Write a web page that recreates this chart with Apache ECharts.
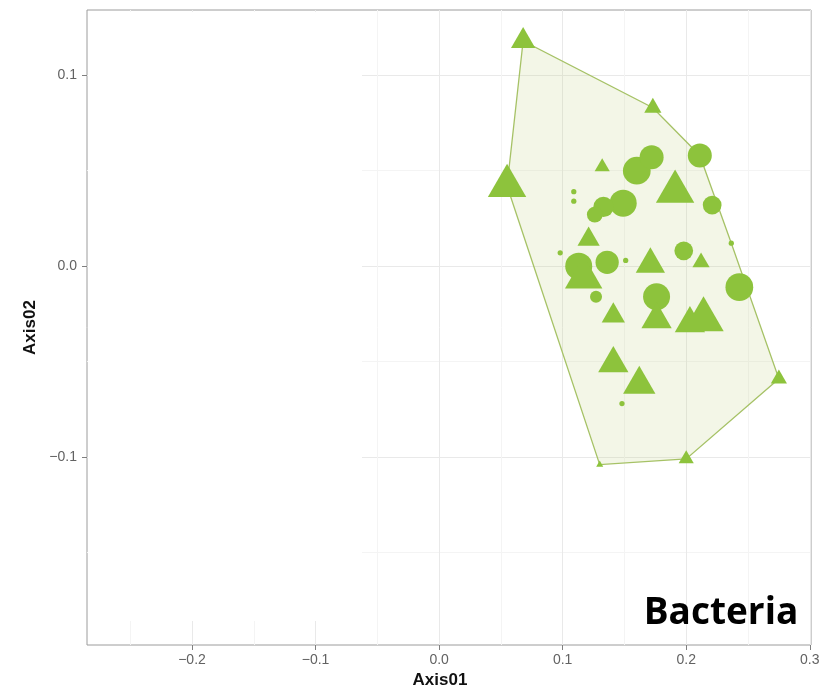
<!DOCTYPE html>
<html>
<head>
<meta charset="utf-8">
<script src="https://cdn.jsdelivr.net/npm/echarts@6/dist/echarts.min.js"></script>
<style>
html,body{margin:0;padding:0;background:#ffffff;}
#chart{width:828px;height:691px;}
</style>
</head>
<body>
<div id="chart"></div>
<script>
// ---- data ----
// group 1: circles
const circleX = [0.160, 0.172, 0.211, 0.149, 0.133, 0.126, 0.221, 0.113, 0.136, 0.198, 0.243, 0.127, 0.176, 0.109, 0.109, 0.098, 0.151, 0.2365, 0.148];
const circleY = [0.050, 0.057, 0.058, 0.033, 0.031, 0.027, 0.032, 0.000, 0.002, 0.008, -0.011, -0.016, -0.016, 0.039, 0.034, 0.007, 0.003, 0.012, -0.072];
const circleAbund = [37, 32, 32, 36, 27, 21, 25, 36, 31, 25, 37, 16, 36, 7, 7, 7, 7, 7, 7];
// group 2: triangles
const triX = [0.068, 0.173, 0.055, 0.132, 0.191, 0.121, 0.117, 0.171, 0.212, 0.141, 0.176, 0.203, 0.214, 0.141, 0.162, 0.275, 0.200, 0.130];
const triY = [0.118, 0.083, 0.042, 0.052, 0.039, 0.014, -0.006, 0.001, 0.002, -0.026, -0.028, -0.030, -0.028, -0.051, -0.062, -0.059, -0.101, -0.104];
const triAbund = [24, 17, 38, 15, 38, 22, 37, 29, 17, 23, 30, 30, 40, 30, 32, 16, 15, 7];
// axes
const xTicks = [-0.2, -0.1, 0.0, 0.1, 0.2, 0.3];
const yTicks = [-0.1, 0.0, 0.1];
const xMinor = [-0.25, -0.15, -0.05, 0.05, 0.15, 0.25];
const yMinor = [-0.15, -0.05, 0.05];
const xRange = [-0.285, 0.301];
const yRange = [-0.1985, 0.1342];
const xTitle = 'Axis01';
const yTitle = 'Axis02';
const panelLabel = 'Bacteria';

// ---- derived ----
const circleData = circleX.map((x, i) => [x, circleY[i], circleAbund[i]]);
const triData = triX.map((x, i) => [x, triY[i], triAbund[i]]);

function convexHull(points) {
  const p = points.map(d => [d[0], d[1]]).sort((a, b) => a[0] - b[0] || a[1] - b[1]);
  const cross = (o, a, b) => (a[0] - o[0]) * (b[1] - o[1]) - (a[1] - o[1]) * (b[0] - o[0]);
  const lower = [];
  for (const pt of p) {
    while (lower.length >= 2 && cross(lower[lower.length - 2], lower[lower.length - 1], pt) <= 0) lower.pop();
    lower.push(pt);
  }
  const upper = [];
  for (let i = p.length - 1; i >= 0; i--) {
    const pt = p[i];
    while (upper.length >= 2 && cross(upper[upper.length - 2], upper[upper.length - 1], pt) <= 0) upper.pop();
    upper.push(pt);
  }
  upper.pop(); lower.pop();
  return lower.concat(upper);
}
const hull = convexHull(circleData.concat(triData));

const fmt = v => (v < -1e-9 ? '\u2212' : '') + Math.abs(v).toFixed(1);
const green = '#8dc33c';
const labelFont = 'Liberation Sans';

const chart = echarts.init(document.getElementById('chart'), null, {renderer: 'canvas'});
chart.setOption({
  animation: false,
  backgroundColor: '#ffffff',
  grid: {
    left: 87, right: 17, top: 10, bottom: 46,
    show: true, borderColor: '#9c9c9c', borderWidth: 1,
    backgroundColor: 'transparent',
    containLabel: false, outerBoundsMode: 'none'
  },
  xAxis: [{
    type: 'value', min: xRange[0], max: xRange[1], position: 'bottom',
    axisLine: {show: false, onZero: false},
    axisTick: {show: true, length: 5, customValues: xTicks, lineStyle: {color: '#7f7f7f', width: 1}},
    axisLabel: {customValues: xTicks, formatter: fmt, color: '#626262', fontSize: 14, fontFamily: labelFont, margin: 8},
    splitLine: {show: true, lineStyle: {color: '#e9e9e9', width: 1}},
    name: xTitle, nameLocation: 'middle', nameGap: 23,
    nameTextStyle: {fontWeight: 'bold', fontSize: 17, color: '#111', fontFamily: labelFont, padding: [0, 18, 0, 0]}
  }, {
    type: 'value', min: xRange[0], max: xRange[1], position: 'top',
    axisLine: {show: false, onZero: false},
    axisTick: {show: false, customValues: xMinor},
    axisLabel: {show: false, customValues: xMinor},
    splitLine: {show: true, lineStyle: {color: '#f4f4f4', width: 1}}
  }],
  yAxis: [{
    type: 'value', min: yRange[0], max: yRange[1], position: 'left',
    axisLine: {show: false, onZero: false},
    axisTick: {show: true, length: 5, customValues: yTicks, lineStyle: {color: '#7f7f7f', width: 1}},
    axisLabel: {customValues: yTicks, formatter: fmt, color: '#626262', fontSize: 14, fontFamily: labelFont, margin: 10},
    splitLine: {show: true, lineStyle: {color: '#e9e9e9', width: 1}},
    name: yTitle, nameLocation: 'middle', nameGap: 38, nameRotate: 90,
    nameTextStyle: {fontWeight: 'bold', fontSize: 17, color: '#111', fontFamily: labelFont}
  }, {
    type: 'value', min: yRange[0], max: yRange[1], position: 'right',
    axisLine: {show: false, onZero: false},
    axisTick: {show: false, customValues: yMinor},
    axisLabel: {show: false, customValues: yMinor},
    splitLine: {show: true, lineStyle: {color: '#f4f4f4', width: 1}}
  }],
  graphic: [{
    type: 'rect', silent: true, z: 1,
    shape: {x: 88, y: 12, width: 274, height: 609},
    style: {fill: '#ffffff'}
  }, {
    type: 'text', silent: true, z: 10,
    x: 721, y: 613,
    style: {text: panelLabel, fontSize: 37, fontWeight: 'bold', fontFamily: 'Open Sans', fill: '#000000', align: 'center', verticalAlign: 'middle'}
  }],
  series: [{
    type: 'custom', coordinateSystem: 'cartesian2d', xAxisIndex: 0, yAxisIndex: 0,
    silent: true, z: 1, clip: true,
    data: [[hull[0][0], hull[0][1]]],
    renderItem: function (params, api) {
      const pts = hull.map(p => api.coord(p));
      return {
        type: 'polygon',
        shape: {points: pts},
        style: {fill: 'rgba(190,205,120,0.18)', stroke: '#a6c266', lineWidth: 1.3}
      };
    }
  }, {
    type: 'scatter', xAxisIndex: 0, yAxisIndex: 0, z: 3,
    symbol: 'circle',
    data: circleData,
    symbolSize: d => d[2] * 0.75,
    itemStyle: {color: green, opacity: 1},
    silent: true
  }, {
    type: 'scatter', xAxisIndex: 0, yAxisIndex: 0, z: 3,
    symbol: 'triangle',
    data: triData,
    symbolSize: d => [d[2] * 1.01, d[2] * 1.01 * 0.866],
    symbolOffset: [0, '-16.67%'],
    itemStyle: {color: green, opacity: 1},
    silent: true
  }]
});
</script>
</body>
</html>
